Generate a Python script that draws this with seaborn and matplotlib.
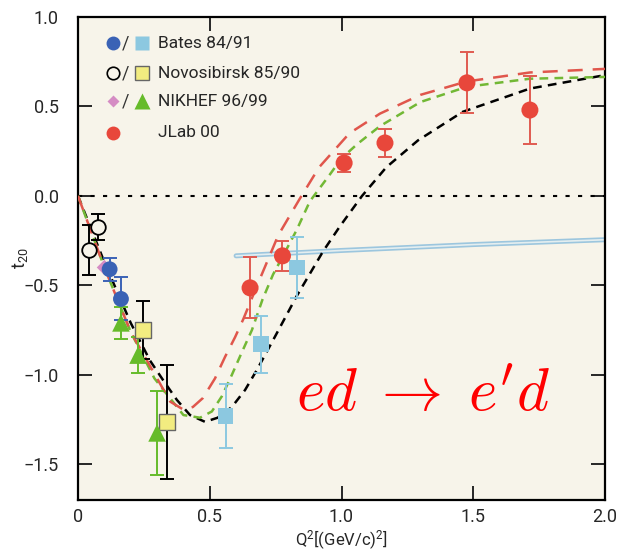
import numpy as np
import pandas as pd
import matplotlib
matplotlib.use("Agg")
import matplotlib.pyplot as plt
import seaborn as sns

# %% data
bates_c_x = [0.12, 0.163]
bates_c_y = [-0.41, -0.576]
bates_c_err = [0.065, 0.12]

bates_s_x = [0.56, 0.695, 0.83]
bates_s_y = [-1.23, -0.83, -0.40]
bates_s_err = [0.18, 0.16, 0.17]

novo_c_x = [0.042, 0.076]
novo_c_y = [-0.30, -0.175]
novo_c_err = [0.14, 0.072]

novo_s_x = [0.245, 0.338]
novo_s_y = [-0.75, -1.263]
novo_s_err = [0.16, 0.32]

nik_d_x = [0.10]
nik_d_y = [-0.40]

nik_t_x = [0.163, 0.228, 0.30]
nik_t_y = [-0.71, -0.89, -1.325]
nik_t_err = [0.09, 0.10, 0.235]

jlab_x = [0.653, 0.776, 1.01, 1.165, 1.476, 1.715]
jlab_y = [-0.514, -0.335, 0.184, 0.296, 0.632, 0.48]
jlab_err = [0.17, 0.085, 0.053, 0.078, 0.17, 0.19]

# theory curves
black_x = [0, 0.1, 0.2, 0.273, 0.323, 0.375, 0.425, 0.482, 0.53, 0.584, 0.634, 0.68, 0.75,
           0.83, 0.93, 0.994, 1.078, 1.17, 1.29, 1.46, 1.715, 2.0]
black_y = [0, -0.37, -0.71, -0.92, -1.03, -1.14, -1.225, -1.263, -1.24, -1.18, -1.085, -0.97,
           -0.78, -0.56, -0.31, -0.17, 0.0, 0.16, 0.31, 0.47, 0.60, 0.675]
red_x = [0, 0.1, 0.2, 0.30, 0.35, 0.40, 0.436, 0.474, 0.52, 0.558, 0.596, 0.627, 0.68, 0.76,
         0.84, 0.915, 1.03, 1.146, 1.30, 1.476, 1.715, 2.0]
red_y = [0, -0.40, -0.76, -1.02, -1.15, -1.195, -1.18, -1.13, -1.02, -0.90, -0.79, -0.69,
         -0.50, -0.22, -0.02, 0.16, 0.35, 0.46, 0.565, 0.64, 0.69, 0.71]
green_x = [0, 0.1, 0.2, 0.29, 0.338, 0.40, 0.463, 0.508, 0.546, 0.584, 0.62, 0.66, 0.70, 0.74,
           0.78, 0.83, 0.88, 0.956, 1.0, 1.06, 1.146, 1.30, 1.476, 1.715, 2.0]
green_y = [0, -0.40, -0.76, -1.02, -1.11, -1.225, -1.24, -1.205, -1.12, -1.0, -0.88, -0.75,
           -0.58, -0.44, -0.33, -0.19, -0.03, 0.12, 0.21, 0.29, 0.39, 0.525, 0.61, 0.655, 0.665]
blue_x = [0.6, 1.0, 1.5, 2.0]
blue_y = [-0.335, -0.305, -0.272, -0.245]

legend_labels = ["Bates 84/91", "Novosibirsk 85/90", "NIKHEF 96/99", "JLab 00"]

# %% plot
sns.set_style("ticks")
plt.rcParams["font.family"] = ["Roboto", "DejaVu Sans"]
plt.rcParams["mathtext.fontset"] = "cm"

bg = "#f7f4ea"
fig = plt.figure(figsize=(6.25, 5.56), dpi=100)
ax = fig.add_axes([0.1248, 0.1007, 0.8432, 0.8687])
ax.set_facecolor(bg)

ax.axhline(0, color="black", ls=(0, (2, 4)), lw=1.5, zorder=1)

sns.lineplot(x=blue_x, y=blue_y, ax=ax, color="#9cc6de", lw=3.6, zorder=2)
sns.lineplot(x=blue_x, y=blue_y, ax=ax, color="#e4eef0", lw=1.2, zorder=2)
sns.lineplot(x=black_x, y=black_y, ax=ax, color="black", lw=1.8, ls=(0, (3.5, 2.5)), zorder=3)
sns.lineplot(x=green_x, y=green_y, ax=ax, color="#72b835", lw=1.8, ls=(0, (3.5, 2.5)), zorder=3)
sns.lineplot(x=red_x, y=red_y, ax=ax, color="#e0564c", lw=1.8, ls=(0, (6, 4)), zorder=3)

eb = dict(fmt="none", capsize=5, elinewidth=1.4, capthick=1.4, zorder=4)
ax.errorbar(novo_c_x, novo_c_y, yerr=novo_c_err, ecolor="black", **eb)
ax.errorbar(novo_s_x, novo_s_y, yerr=novo_s_err, ecolor="black", **eb)
ax.errorbar(bates_c_x, bates_c_y, yerr=bates_c_err, ecolor="#3a62b5", **eb)
ax.errorbar(bates_s_x, bates_s_y, yerr=bates_s_err, ecolor="#8cc8e0", **eb)
ax.errorbar(nik_t_x, nik_t_y, yerr=nik_t_err, ecolor="#66bb2a", **eb)
ax.errorbar(jlab_x, jlab_y, yerr=jlab_err, ecolor="#e05a50", **eb)

sc = dict(ax=ax, zorder=5, legend=False)
sns.scatterplot(x=novo_c_x, y=novo_c_y, marker="o", s=110, facecolor=bg, edgecolor="black", linewidth=1.3, **sc)
sns.scatterplot(x=novo_s_x, y=novo_s_y, marker="s", s=130, color="#f2ec80", edgecolor="#666666", linewidth=1.0, **sc)
sns.scatterplot(x=nik_d_x, y=nik_d_y, marker="D", s=60, color="#d58cc4", edgecolor="none", **sc)
sns.scatterplot(x=bates_c_x, y=bates_c_y, marker="o", s=130, color="#3a62b5", edgecolor="none", **sc)
sns.scatterplot(x=bates_s_x, y=bates_s_y, marker="s", s=130, color="#8cc8e0", edgecolor="none", **sc)
sns.scatterplot(x=nik_t_x, y=nik_t_y, marker="^", s=160, color="#66bb2a", edgecolor="none", **sc)
sns.scatterplot(x=jlab_x, y=jlab_y, marker="o", s=150, color="#e8473b", edgecolor="none", **sc)

# legend drawn by hand
tr = ax.transAxes
rows = [0.946, 0.884, 0.826, 0.760]
pairs = [
    (dict(marker="o", ms=10, color="#3a62b5", mec="none"), dict(marker="s", ms=10, color="#8cc8e0", mec="none")),
    (dict(marker="o", ms=9, mfc=bg, mec="black", mew=1.2), dict(marker="s", ms=10, mfc="#f2ec80", mec="#666666", mew=1.0)),
    (dict(marker="D", ms=6.5, color="#d58cc4", mec="none"), dict(marker="^", ms=11, color="#66bb2a", mec="none")),
    (dict(marker="o", ms=10, color="#e8473b", mec="none"), None),
]
for yy, (m1, m2), lab in zip(rows, pairs, legend_labels):
    ax.plot([0.066], [yy], transform=tr, ls="none", zorder=6, **m1)
    if m2 is not None:
        ax.text(0.091, yy, "/", transform=tr, ha="center", va="center", fontsize=13, color="#333333")
        ax.plot([0.122], [yy], transform=tr, ls="none", zorder=6, **m2)
    ax.text(0.152, yy, lab, transform=tr, ha="left", va="center", fontsize=12.5)

ax.text(1.31, -1.11, r"$ed\;\rightarrow\;e^{\prime}d$", color="red", fontsize=44,
        ha="center", va="center")

ax.set_xlim(0, 2.0)
ax.set_ylim(-1.7, 1.0)
ax.set_xticks([0, 0.5, 1.0, 1.5, 2.0])
ax.set_xticklabels(["0", "0.5", "1.0", "1.5", "2.0"])
ax.set_yticks([-1.5, -1.0, -0.5, 0.0, 0.5, 1.0])
ax.tick_params(direction="in", length=10, width=1.4, top=True, right=True, labelsize=13)
ax.tick_params(axis="x", pad=6)
ax.tick_params(axis="y", pad=14)
for sp in ax.spines.values():
    sp.set_visible(True)
    sp.set_linewidth(1.6)
    sp.set_color("black")

ax.set_xlabel(r"$\mathregular{Q^2[(GeV/c)^2]}$", fontsize=12, labelpad=2)
ax.set_ylabel(r"$\mathregular{t_{20}}$", fontsize=13)
ax.yaxis.set_label_coords(-0.091, 0.5)

fig.savefig("out.png", dpi=100)
